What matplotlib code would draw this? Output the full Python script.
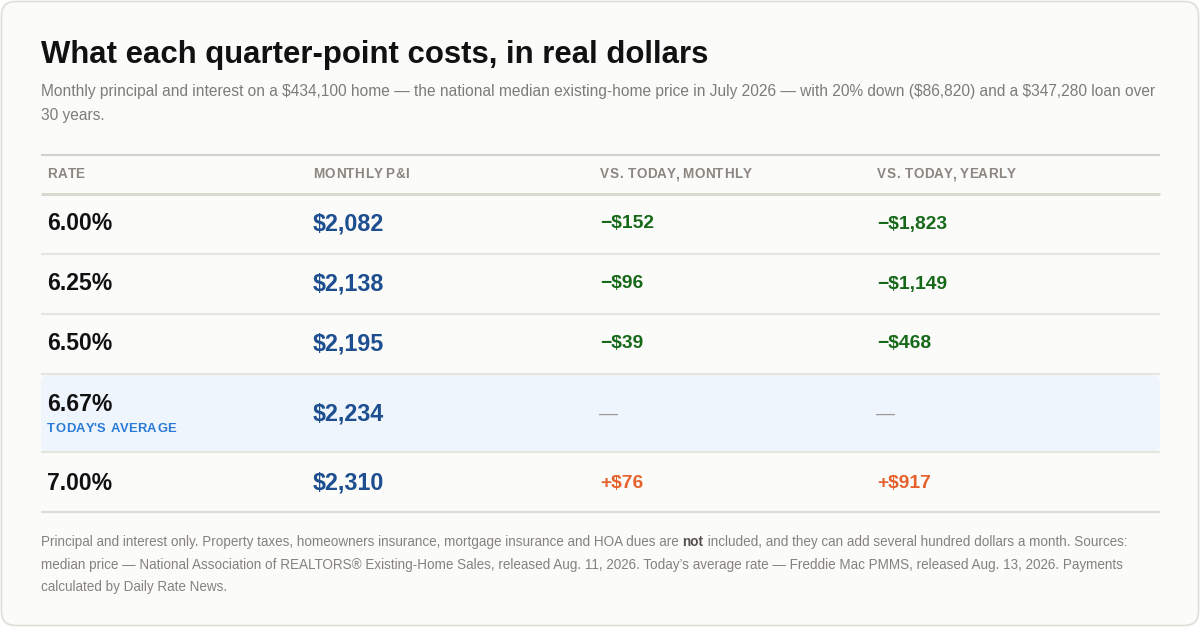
import matplotlib
matplotlib.use("Agg")
import matplotlib.pyplot as plt
from matplotlib.patches import FancyBboxPatch
from matplotlib.font_manager import FontProperties

# ---- data ----
rates = [6.00, 6.25, 6.50, 6.67, 7.00]
monthly_pi = [2082, 2138, 2195, 2234, 2310]
vs_monthly = [-152, -96, -39, None, 76]
vs_yearly = [-1823, -1149, -468, None, 917]
today_index = 3
headers = ["RATE", "MONTHLY P&I", "VS. TODAY, MONTHLY", "VS. TODAY, YEARLY"]
today_label = "TODAY'S AVERAGE"

title = "What each quarter-point costs, in real dollars"
subtitle_lines = [
    "Monthly principal and interest on a $434,100 home \u2014 the national median existing-home price in July 2026 \u2014 with 20% down ($86,820) and a $347,280 loan over",
    "30 years.",
]
footer_lines = [
    [("Principal and interest only. Property taxes, homeowners insurance, mortgage insurance and HOA dues are ", False),
     ("not", True),
     (" included, and they can add several hundred dollars a month. Sources:", False)],
    [("median price \u2014 National Association of REALTORS\u00ae Existing-Home Sales, released Aug. 11, 2026. Today\u2019s average rate \u2014 Freddie Mac PMMS, released Aug. 13, 2026. Payments", False)],
    [("calculated by Daily Rate News.", False)],
]

plt.rcParams['font.family'] = ['Liberation Sans', 'DejaVu Sans']

W, H = 1200, 627
fig = plt.figure(figsize=(W / 100, H / 100), dpi=100)
fig.patch.set_facecolor("#ffffff")
ax = fig.add_axes([0, 0, 1, 1])
ax.set_xlim(0, W)
ax.set_ylim(H, 0)
ax.axis("off")
fig.canvas.draw()
renderer = fig.canvas.get_renderer()

PT = 0.72  # px -> pt at 100 dpi


def spaced_text(x, y, s, size_px, spacing_px, **kw):
    prop = FontProperties(family=['Liberation Sans', 'DejaVu Sans'], size=size_px * PT,
                          weight=kw.get("fontweight", "normal"))
    for i, ch in enumerate(s):
        if ch == " ":
            continue
        w, _, _ = renderer.get_text_width_height_descent(s[:i], prop, ismath=False) if i else (0, 0, 0)
        ax.text(x + w + i * spacing_px, y, ch, fontsize=size_px * PT, va="center", ha="left", **kw)


# card
card = FancyBboxPatch((1.5, 1.5), W - 3, H - 3, boxstyle="round,pad=0,rounding_size=14",
                      facecolor="#fbfbf9", edgecolor="#deded8", linewidth=1.2)
ax.add_patch(card)

L, R = 41, 1160
ax.text(L, 55, title, fontsize=31.2 * PT, fontweight="bold", color="#111111", va="center", ha="left")
for i, line in enumerate(subtitle_lines):
    ax.text(L, 91.5 + 24 * i, line, fontsize=15.5 * PT, color="#7c7c78", va="center", ha="left")

# header rules
ax.plot([L, R], [155, 155], color="#d3d3cc", lw=1.6, solid_capstyle="butt")
ax.plot([L, R], [193.5, 193.5], color="#d9d9d2", lw=2.2, solid_capstyle="butt")

col_x = [47, 313, 600, 877]
for x, h in zip(col_x, headers):
    spaced_text(x, 174.5, h, 13.5, 0.45, fontweight="bold", color="#8b8680")

row_centers = [224, 284, 344, 414, 483]
row_tops = [194, 254, 314, 374, 452]
row_bots = [254, 314, 374, 452, 512]

# highlight box
hl = FancyBboxPatch((L, row_tops[today_index] + 1.5), R - L, row_bots[today_index] - row_tops[today_index] - 2,
                    boxstyle="round,pad=0,rounding_size=7", facecolor="#eff5fd", edgecolor="none", zorder=1)
ax.add_patch(hl)

for i in range(len(rates)):
    col = "#e6e6e0" if i < len(rates) - 1 else "#dcdcd5"
    ax.plot([L, R], [row_bots[i], row_bots[i]], color=col, lw=1.6, solid_capstyle="butt", zorder=2)


def money(v):
    return "${:,}".format(abs(v))


GREEN = "#17691a"
ORANGE = "#e5622c"
BLUE = "#1d4e8f"

for i, (r, m, dm, dy) in enumerate(zip(rates, monthly_pi, vs_monthly, vs_yearly)):
    yc = row_centers[i]
    if i == today_index:
        ax.text(col_x[0], 404.5, "{:.2f}%".format(r), fontsize=23 * PT, fontweight="bold", color="#111111",
                va="center", ha="left", zorder=3)
        spaced_text(col_x[0], 429.5, today_label, 13, 0.55, fontweight="bold", color="#2b7bd6", zorder=3)
    else:
        ax.text(col_x[0], yc, "{:.2f}%".format(r), fontsize=23 * PT, fontweight="bold", color="#111111",
                va="center", ha="left", zorder=3)
    ax.text(col_x[1], yc, money(m), fontsize=23.3 * PT, fontweight="bold", color=BLUE, va="center", ha="left", zorder=3)
    for x, d in ((col_x[2], dm), (col_x[3], dy)):
        if d is None:
            ax.text(x - 1, yc, "\u2014", fontsize=19 * PT, color="#9a9a95", va="center", ha="left", zorder=3)
        else:
            sign = "\u2212" if d < 0 else "+"
            col = GREEN if d < 0 else ORANGE
            ax.text(x, yc, sign + money(d), fontsize=19.3 * PT, fontweight="bold", color=col,
                    va="center", ha="left", zorder=3)

# footer with mixed weights
inv = ax.transData.inverted()
for li, pieces in enumerate(footer_lines):
    y = 542 + 22.5 * li
    x = L
    for txt, bold in pieces:
        t = ax.text(x, y, txt, fontsize=13.56 * PT, fontweight="bold" if bold else "normal",
                    color="#55524e" if bold else "#85827d", va="center", ha="left")
        bb = t.get_window_extent(renderer=renderer)
        x = inv.transform((bb.x1, bb.y0))[0]

fig.savefig("out.png", dpi=100, facecolor=fig.get_facecolor())
